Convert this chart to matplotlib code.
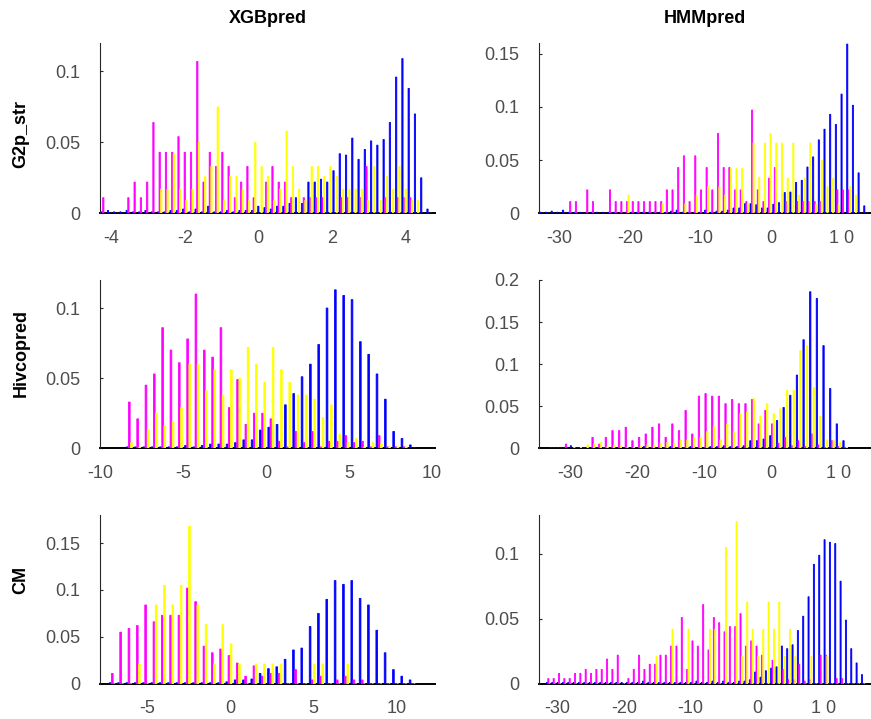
import numpy as np
import matplotlib.pyplot as plt
from matplotlib.ticker import FuncFormatter

plt.rcParams['font.family'] = ['Liberation Sans', 'DejaVu Sans']
plt.rcParams['axes.unicode_minus'] = False

# ---- labels ----
methods = ["XGBpred", "HMMpred"]
datasets = ["G2p_str", "Hivcopred", "CM"]

# ---- bin centres (first centre, last centre, count) ----
xgb_g2p_bins = (-4.22, 4.65, 53)
hmm_g2p_bins = (-32.5, 13.4, 58)
xgb_hiv_bins = (-8.26, 8.84, 35)
hmm_hiv_bins = (-32.66, 11.0, 45)
xgb_cm_bins = (-7.1, 10.96, 37)
hmm_cm_bins = (-31.3, 15.9, 60)

# ---- XGBpred / G2p_str ----
xgb_g2p_blue = [0.001, 0.002, 0.001, 0.001, 0.002, 0.001, 0.001, 0.002, 0.001, 0.001,
                0.001, 0.002, 0.002, 0.003, 0.001, 0.003, 0.001, 0.005, 0.001, 0.001,
                0.002, 0.001, 0.002, 0.002, 0.002, 0.005, 0.004, 0.003, 0.005, 0.005,
                0.007, 0.011, 0.007, 0.022, 0.022, 0.024, 0.022, 0.030, 0.042, 0.041,
                0.053, 0.038, 0.045, 0.051, 0.048, 0.052, 0.064, 0.096, 0.109, 0.088,
                0.070, 0.025, 0.003]
xgb_g2p_mag = [0.011, 0, 0, 0, 0.011, 0.022, 0.011, 0.022, 0.064, 0.043,
               0.043, 0.043, 0.054, 0.043, 0.043, 0.107, 0.022, 0.043, 0.033, 0.043,
               0.033, 0.011, 0.022, 0.033, 0.011, 0, 0.022, 0.033, 0.022, 0.022,
               0.011, 0, 0.011, 0.011, 0.011, 0.011, 0, 0, 0.011, 0.011,
               0, 0.011, 0.033, 0, 0, 0.011, 0, 0.011, 0.011, 0.011,
               0, 0, 0]
xgb_g2p_yel = [0, 0, 0, 0, 0, 0, 0, 0, 0, 0.017,
               0.017, 0.042, 0.017, 0.009, 0.017, 0.050, 0.026, 0.033, 0.075, 0.009,
               0.026, 0.026, 0.017, 0.009, 0.050, 0.033, 0.026, 0.009, 0.017, 0.058,
               0.033, 0.017, 0.009, 0.033, 0.033, 0.026, 0.033, 0.026, 0.017, 0.017,
               0.017, 0.017, 0.009, 0.033, 0.009, 0.026, 0.017, 0.033, 0.017, 0.009,
               0.009, 0, 0]

# ---- HMMpred / G2p_str ----
hmm_g2p_blue = [0.001, 0.001, 0.002, 0.001, 0.003, 0.001, 0.001, 0.001, 0.001, 0.001,
                0.001, 0.001, 0.001, 0.001, 0.001, 0.001, 0.001, 0.001, 0.001, 0.001,
                0.001, 0.001, 0.001, 0.002, 0.003, 0.001, 0.001, 0.001, 0.001, 0.003,
                0.001, 0.002, 0.002, 0.003, 0.005, 0.005, 0.009, 0.009, 0.008, 0.005,
                0.005, 0.0085, 0.010, 0.0195, 0.020, 0.029, 0.031, 0.0435, 0.053, 0.069,
                0.079, 0.093, 0.0835, 0.112, 0.159, 0.1015, 0.038, 0.007]
hmm_g2p_mag = [0, 0, 0, 0, 0, 0.011, 0.011, 0, 0.022, 0.011,
               0, 0, 0.022, 0.011, 0.011, 0.011, 0.011, 0.011, 0.011, 0.011,
               0.011, 0.011, 0.022, 0.022, 0.043, 0.054, 0.011, 0.054, 0.022, 0.043,
               0.022, 0.075, 0.043, 0.043, 0.022, 0.022, 0.011, 0.097, 0.022, 0.011,
               0.033, 0.043, 0, 0.011, 0, 0.011, 0.011, 0.011, 0.011, 0.011,
               0, 0, 0.022, 0.022, 0.022, 0, 0, 0]
hmm_g2p_yel = [0, 0, 0, 0, 0, 0, 0, 0, 0, 0,
               0, 0, 0, 0, 0, 0.017, 0, 0, 0, 0,
               0, 0.009, 0, 0, 0, 0.009, 0, 0.017, 0, 0.025,
               0, 0.025, 0.017, 0.042, 0.042, 0.042, 0.009, 0.066, 0.034, 0.066,
               0.075, 0.066, 0.066, 0.033, 0.066, 0.017, 0.033, 0.066, 0.008, 0.050,
               0.025, 0.033, 0.008, 0, 0.025, 0.017, 0, 0]

# ---- XGBpred / Hivcopred ----
xgb_hiv_blue = [0.001, 0.001, 0.001, 0.001, 0.001, 0.001, 0.001, 0.002, 0.001, 0.002,
                0.003, 0.003, 0.003, 0.004, 0.006, 0.006, 0.013, 0.015, 0.017, 0.031,
                0.039, 0.051, 0.060, 0.074, 0.100, 0.113, 0.109, 0.106, 0.076, 0.067,
                0.053, 0.035, 0.012, 0.007, 0.0024]
xgb_hiv_mag = [0.033, 0.021, 0.045, 0.053, 0.086, 0.070, 0.061, 0.078, 0.110, 0.070,
               0.065, 0.086, 0.029, 0.049, 0.017, 0.025, 0.025, 0.021, 0.005, 0.001,
               0.012, 0.004, 0.012, 0.001, 0.005, 0.005, 0.009, 0.004, 0.005, 0.001,
               0.009, 0.001, 0.001, 0.001, 0]
xgb_hiv_yel = [0.004, 0.001, 0.013, 0.025, 0.016, 0.019, 0.029, 0.060, 0.060, 0.041,
               0.056, 0.038, 0.056, 0.050, 0.072, 0.060, 0.047, 0.072, 0.056, 0.047,
               0.038, 0.038, 0.035, 0.022, 0.031, 0.010, 0.004, 0.007, 0.001, 0.004,
               0.003, 0.001, 0.001, 0.001, 0]

# ---- HMMpred / Hivcopred ----
hmm_hiv_blue = [0.001, 0.001, 0.001, 0.003, 0.001, 0.001, 0.001, 0.001, 0.001, 0.001,
                0.001, 0.001, 0.001, 0.001, 0.002, 0.001, 0.001, 0.001, 0.002, 0.001,
                0.001, 0.002, 0.001, 0.001, 0.002, 0.002, 0.003, 0.002, 0.002, 0.003,
                0.009, 0.009, 0.011, 0.015, 0.033, 0.0485, 0.063, 0.087, 0.129, 0.186,
                0.178, 0.122, 0.071, 0.029, 0.009]
hmm_hiv_mag = [0, 0, 0.005, 0, 0, 0, 0.013, 0.005, 0.013, 0.021,
               0.021, 0.025, 0.009, 0.013, 0.017, 0.025, 0.029, 0.013, 0.029, 0.021,
               0.045, 0.017, 0.062, 0.065, 0.062, 0.062, 0.053, 0.058, 0.053, 0.053,
               0.058, 0.029, 0.045, 0.029, 0.006, 0.013, 0.003, 0.009, 0.002, 0.017,
               0.004, 0.001, 0.009, 0.002, 0.001]
hmm_hiv_yel = [0, 0, 0, 0.001, 0.001, 0.004, 0.005, 0.007, 0.002, 0.004,
               0.003, 0.001, 0.001, 0.002, 0.004, 0.004, 0.006, 0.007, 0.006, 0.010,
               0.010, 0.013, 0.013, 0.020, 0.026, 0.010, 0.029, 0.020, 0.041, 0.043,
               0.059, 0.038, 0.053, 0.041, 0.047, 0.069, 0.069, 0.116, 0.122, 0.072,
               0.038, 0.010, 0.009, 0.007, 0.001]

# ---- XGBpred / CM ----
xgb_cm_blue = [0.001, 0.001, 0.001, 0.001, 0.001, 0.001, 0.001, 0.001, 0.001, 0.001,
               0.001, 0.001, 0.001, 0.001, 0.002, 0.004, 0.004, 0.005, 0.011, 0.016,
               0.018, 0.026, 0.036, 0.038, 0.061, 0.075, 0.090, 0.110, 0.106, 0.110,
               0.091, 0.084, 0.057, 0.033, 0.015, 0.008, 0.004]
xgb_cm_mag = [0.011, 0.055, 0.059, 0.062, 0.084, 0.066, 0.073, 0.073, 0.073, 0.102,
              0.0875, 0.040, 0.033, 0.037, 0.030, 0.022, 0.008, 0.019, 0.008, 0.011,
              0.011, 0, 0.015, 0, 0.004, 0.008, 0, 0.004, 0.008, 0.004,
              0.004, 0, 0, 0, 0, 0, 0]
xgb_cm_yel = [0, 0, 0, 0.021, 0, 0.084, 0.105, 0.084, 0.105, 0.168,
              0.084, 0.063, 0.021, 0.063, 0.0425, 0.021, 0, 0.021, 0.021, 0.021,
              0.021, 0, 0, 0, 0.021, 0.021, 0, 0, 0.021, 0,
              0, 0, 0, 0, 0, 0, 0]

# ---- HMMpred / CM ----
hmm_cm_blue = [0.001, 0.001, 0.001, 0.001, 0.001, 0.001, 0.001, 0.001, 0.001, 0.001,
               0.001, 0.001, 0.001, 0.001, 0.001, 0.001, 0.001, 0.001, 0.002, 0.001,
               0.001, 0.001, 0.001, 0.001, 0.001, 0.001, 0.001, 0.001, 0.002, 0.001,
               0.001, 0.002, 0.001, 0.002, 0.001, 0.001, 0.002, 0.002, 0.003, 0.009,
               0.005, 0.010, 0.012, 0.013, 0.029, 0.027, 0.030, 0.041, 0.052, 0.067,
               0.092, 0.099, 0.111, 0.109, 0.108, 0.079, 0.049, 0.027, 0.016, 0.007]
hmm_cm_mag = [0.004, 0.004, 0.008, 0.004, 0.004, 0.008, 0.008, 0.011, 0.008, 0.011,
              0.011, 0.019, 0.011, 0.022, 0, 0.004, 0.011, 0.022, 0.011, 0.015,
              0.015, 0.022, 0.022, 0.029, 0.029, 0.051, 0.011, 0.033, 0.029, 0.061,
              0.026, 0.051, 0.047, 0.040, 0.044, 0.044, 0.054, 0.029, 0.033, 0.029,
              0.022, 0, 0.018, 0, 0.011, 0.003, 0.003, 0.015, 0.002, 0.003,
              0, 0.022, 0.022, 0, 0.004, 0.004, 0, 0, 0, 0]
hmm_cm_yel = [0, 0, 0, 0, 0, 0, 0, 0, 0, 0,
              0, 0, 0, 0, 0, 0, 0, 0, 0, 0,
              0.021, 0, 0, 0.042, 0, 0, 0.042, 0, 0, 0,
              0.042, 0.042, 0, 0.105, 0, 0.125, 0.021, 0.063, 0.042, 0.021,
              0.042, 0.063, 0.042, 0.063, 0.021, 0.042, 0.021, 0, 0, 0.021,
              0, 0, 0.021, 0, 0, 0, 0, 0, 0, 0]

# ---- axis settings ----
xgb_g2p_xlim, hmm_g2p_xlim = (-4.31, 4.81), (-32.9, 14.0)
xgb_hiv_xlim, hmm_hiv_xlim = (-10.03, 10.2), (-34.7, 14.7)
xgb_cm_xlim, hmm_cm_xlim = (-7.84, 12.33), (-32.7, 16.9)
ylims = [[0.12, 0.16], [0.12, 0.2], [0.18, 0.13]]
xgb_g2p_ticks = [-4, -2, 0, 2, 4]
xgb_hiv_ticks = [-10, -5, 0, 5, 10]
xgb_cm_ticks = [-5, 0, 5, 10]
hmm_ticks = [-30, -20, -10, 0, 10]
hmm_tick_labels = ["-30", "-20", "-10", "0", "1 0"]

panels = [
    [(xgb_g2p_bins, xgb_g2p_blue, xgb_g2p_mag, xgb_g2p_yel, xgb_g2p_xlim, xgb_g2p_ticks, None),
     (hmm_g2p_bins, hmm_g2p_blue, hmm_g2p_mag, hmm_g2p_yel, hmm_g2p_xlim, hmm_ticks, hmm_tick_labels)],
    [(xgb_hiv_bins, xgb_hiv_blue, xgb_hiv_mag, xgb_hiv_yel, xgb_hiv_xlim, xgb_hiv_ticks, None),
     (hmm_hiv_bins, hmm_hiv_blue, hmm_hiv_mag, hmm_hiv_yel, hmm_hiv_xlim, hmm_ticks, hmm_tick_labels)],
    [(xgb_cm_bins, xgb_cm_blue, xgb_cm_mag, xgb_cm_yel, xgb_cm_xlim, xgb_cm_ticks, None),
     (hmm_cm_bins, hmm_cm_blue, hmm_cm_mag, hmm_cm_yel, hmm_cm_xlim, hmm_ticks, hmm_tick_labels)],
]
colors = ["#0000ff", "#ff00ff", "#ffff00"]

W, H = 871, 719
fig = plt.figure(figsize=(W / 100, H / 100), dpi=100)

col_px = [(100, 335), (539, 331)]          # left, width
row_px = [(43, 213.3), (280, 448.3), (515, 683.7)]  # top, bottom
label_y = [133.5, 352.5, 580]

for r, row in enumerate(panels):
    top, bot = row_px[r]
    for c, (bins, blue, mag, yel, xlim, ticks, tlabels) in enumerate(row):
        left, width = col_px[c]
        ax = fig.add_axes([left / W, (H - bot) / H, width / W, (bot - top) / H])
        x = np.linspace(*bins)
        dx = x[1] - x[0]
        off, bw = 0.26 * dx, 0.2 * dx
        for k, (vals, col) in enumerate(zip([blue, mag, yel], colors)):
            ax.bar(x + (k - 1) * off, vals, bw, color=col, edgecolor=col,
                   lw=0.6, snap=False, zorder=3)

        ax.set_xlim(*xlim)
        ax.set_ylim(0, ylims[r][c])
        ax.set_xticks(ticks)
        if tlabels is not None:
            ax.set_xticklabels(tlabels)
        ax.yaxis.set_major_formatter(FuncFormatter(lambda v, p: "%g" % round(v, 3)))

        for s in ("top", "right"):
            ax.spines[s].set_visible(False)
        ax.spines["left"].set_color("#262626")
        ax.spines["left"].set_linewidth(0.8)
        ax.spines["bottom"].set_color("black")
        ax.spines["bottom"].set_linewidth(1.4)
        ax.spines["bottom"].set_zorder(2)
        ax.tick_params(axis="both", direction="in", length=2.5, width=0.8,
                       labelsize=13, labelcolor="#4d4d4d", color="#262626")
        ax.tick_params(axis="x", pad=12, length=0)
        ax.tick_params(axis="y", pad=14)

        if r == 0:
            fig.text((left + width / 2) / W, 1 - 23.3 / H, methods[c],
                     ha="center", va="baseline", fontsize=13, fontweight="bold")
    fig.text(21 / W, 1 - label_y[r] / H, datasets[r], rotation=90,
             ha="center", va="center", fontsize=13, fontweight="bold")

fig.savefig("out.png", dpi=100)
